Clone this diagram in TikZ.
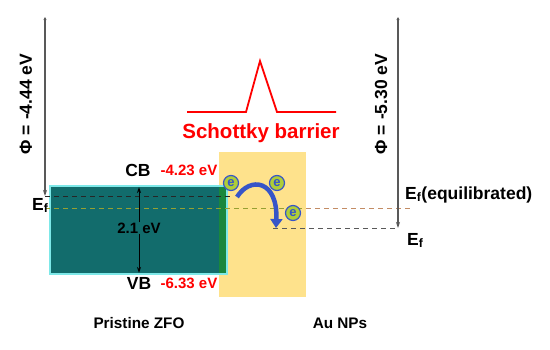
\documentclass[tikz,border=0pt]{standalone}
\usepackage{fontspec}
\setmainfont{Liberation Sans}
\usetikzlibrary{arrows.meta,positioning,calc}
\definecolor{zfoteal}{RGB}{18,108,108}
\definecolor{zfoedge}{RGB}{125,232,232}
\definecolor{zfogreen}{RGB}{25,135,60}
\definecolor{aufill}{RGB}{254,226,140}
\definecolor{elecgreen}{RGB}{175,205,55}
\definecolor{elecblue}{RGB}{55,85,200}
\definecolor{lvlolive}{RGB}{150,160,50}
\definecolor{lvlbrown}{RGB}{195,140,100}

\begin{document}
\begin{tikzpicture}[x=1pt, y=-1pt,
    lbl/.style={font=\fontsize{#1}{#1}\selectfont\bfseries, inner sep=0pt},
    lbl/.default=15,
    value/.style={lbl=15, text=red},
    level/.style={dash pattern=on 5pt off 4pt, line width=1pt},
    phiarrow/.style={{Stealth[length=3pt,width=3pt]}-{Stealth[length=6pt,width=4pt]}, line width=1.3pt, black!65},
    gaparrow/.style={-{Stealth[length=6pt,width=4pt]}, line width=1pt, black},
    electron/.style={circle, draw=elecblue, fill=elecgreen, line width=1.2pt, minimum size=15pt, inner sep=0pt, font=\fontsize{13}{13}\selectfont\bfseries, text=elecblue},
    hop/.style={-{Triangle[length=9pt,width=12pt]}, line width=4.5pt, elecblue},
]
    \useasboundingbox (0,0) rectangle (550,349);

    % boxes
    \fill[aufill] (219,152) rectangle (306,297);
    \draw[zfoedge, fill=zfoteal, line width=1.5pt] (50,186) rectangle (227,274);
    \fill[zfogreen] (219,187) rectangle (226,273);

    % levels
    \draw[level, black!85] (45,196) -- (233,196);
    \draw[level, lvlolive] (45,208) -- (306,208);
    \draw[level, lvlbrown] (306,208) -- (410,208);
    \draw[level, black!65] (273,228) -- (398,228);

    % work functions
    \coordinate (vacL) at (45,17);
    \coordinate (efL) at (45,196);
    \coordinate (vacR) at (398,17);
    \coordinate (efR) at (398,228);
    \draw[phiarrow] (vacL) -- (efL);
    \draw[phiarrow] (vacR) -- (efR);
    \node[lbl=17.5, rotate=90] (phiL) at (26,104) {Φ = -4.44 eV};
    \node[lbl=17.5, rotate=90] (phiR) at (381,104) {Φ = -5.30 eV};

    % band edges
    \node[lbl=17.5] (cb) at (138,170) {CB};
    \node[value] (cbval) at (189,170) {-4.23 eV};
    \node[lbl=17.5] (vb) at (139,283) {VB};
    \node[value] (vbval) at (189,283) {-6.33 eV};
    \node[lbl=15] (gap) at (139,228) {2.1 eV};
    \coordinate (cbedge) at (139,187);
    \coordinate (vbedge) at (139,273);
    \draw[gaparrow] (gap) -- (cbedge);
    \draw[gaparrow] (gap) -- (vbedge);

    % Fermi levels
    \node[lbl=17.5, anchor=base west] (efzfo) at (32,210) {E\textsubscript{f}};
    \node[lbl=17.5, anchor=base west] (efeq) at (405,199) {E\textsubscript{f}(equilibrated)};
    \node[lbl=17.5, anchor=base west] (efau) at (407,245) {E\textsubscript{f}};

    % Schottky barrier
    \draw[red, line width=1.8pt] (187,112) -- (246,112) -- (260,61) -- (277,112) -- (336,112);
    \node[lbl=20.5, text=red] (schottky) at (261,133) {Schottky barrier};

    % electron transfer
    \coordinate (hopstart) at (237,197);
    \coordinate (hopend) at (276,228);
    \draw[hop] (hopstart) .. controls (250,176) and (278,180) .. (hopend);
    \node[electron] (e1) at (231,183) {e};
    \node[electron] (e2) at (277,183) {e};
    \node[electron] (e3) at (293,213) {e};

    \node[lbl=15.3] (zfo) at (139,323) {Pristine ZFO};
    \node[lbl=15.3] (au) at (340,323) {Au NPs};
\end{tikzpicture}
\end{document}
